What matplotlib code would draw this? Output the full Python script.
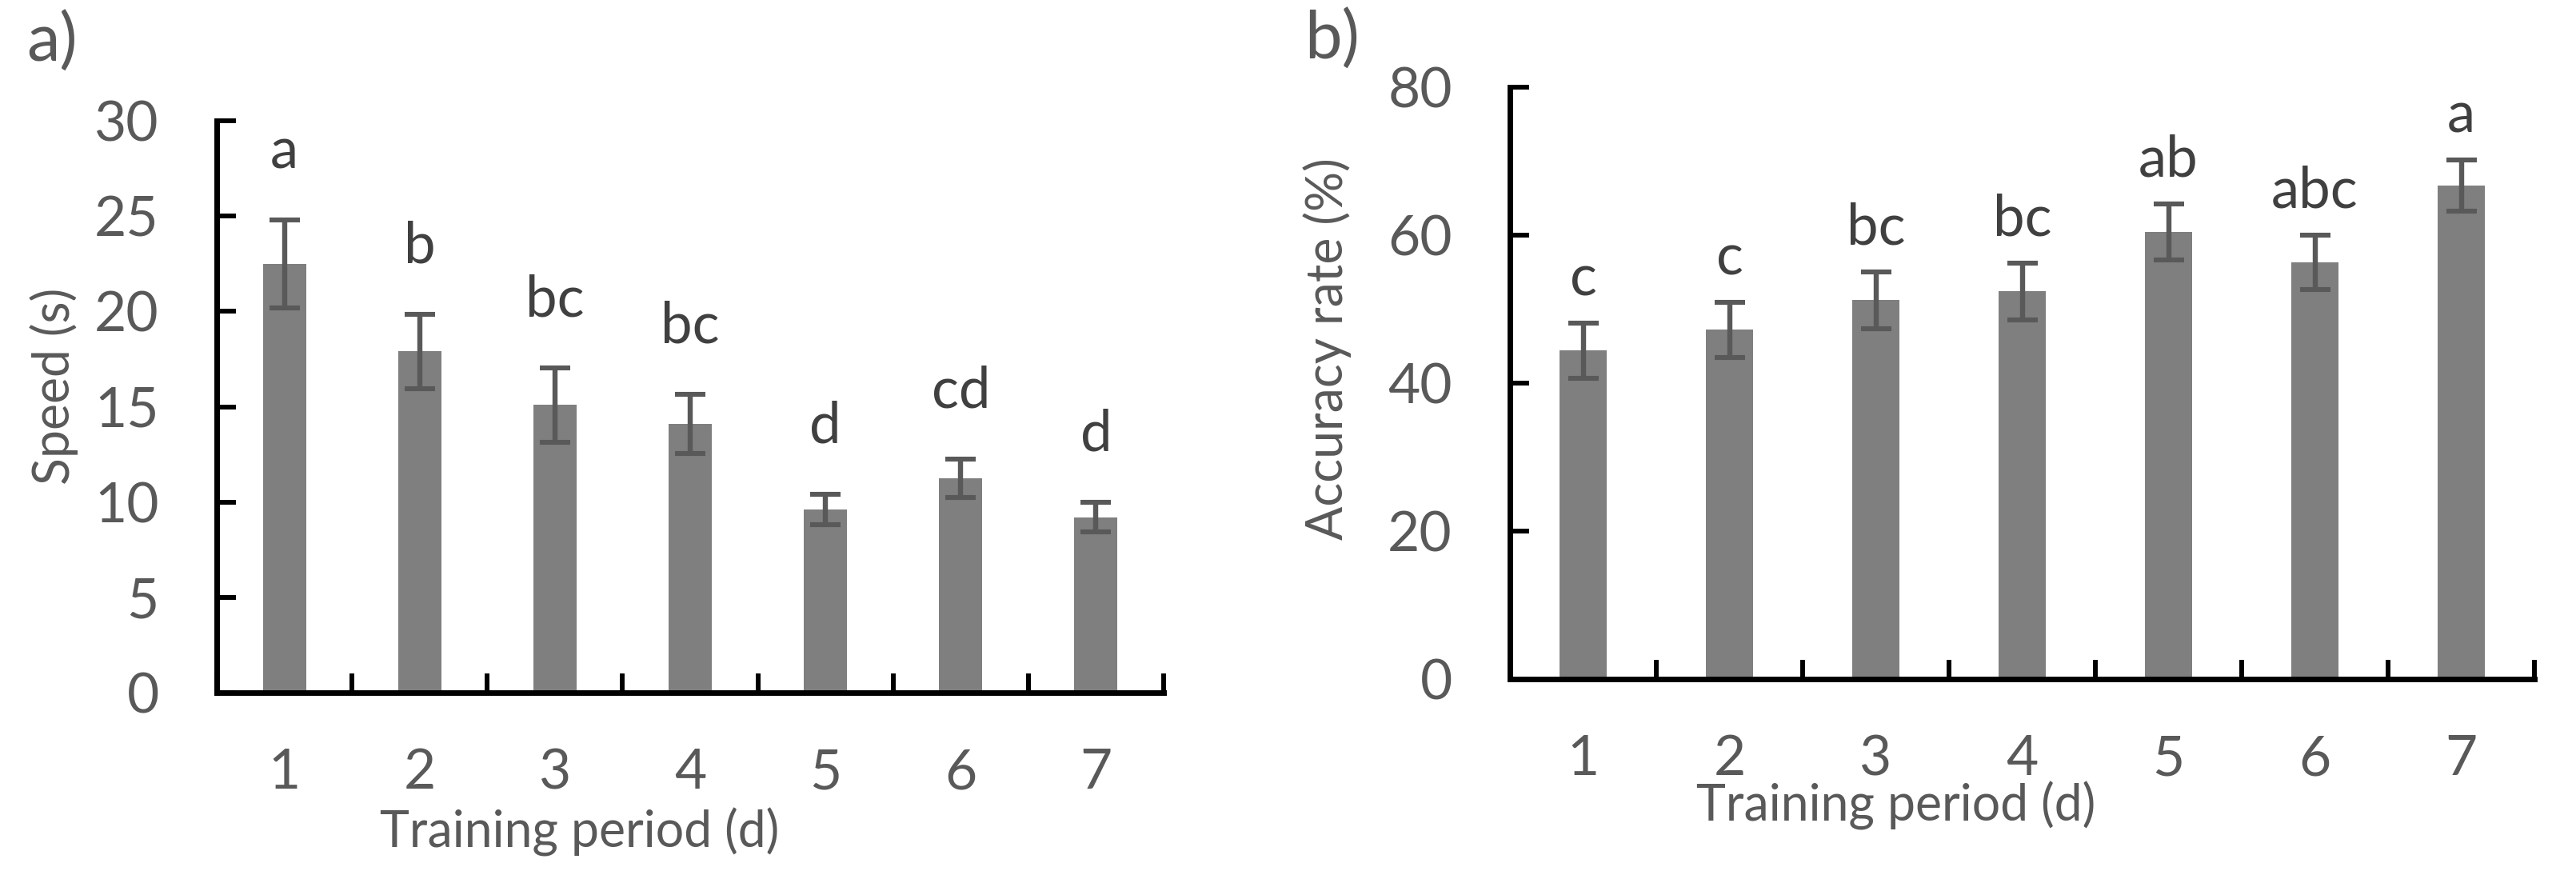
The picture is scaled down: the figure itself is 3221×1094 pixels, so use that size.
import matplotlib
matplotlib.use("Agg")
import matplotlib.pyplot as plt
import numpy as np

plt.rcParams['font.family'] = ['Lato', 'DejaVu Sans']

# ---- data ----
days = [1, 2, 3, 4, 5, 6, 7]
day_labels = ["1", "2", "3", "4", "5", "6", "7"]

speed_mean = [22.5, 17.9, 15.1, 14.1, 9.6, 11.25, 9.2]
speed_err = [2.3, 1.95, 1.95, 1.55, 0.8, 1.0, 0.78]
speed_letters = ["a", "b", "bc", "bc", "d", "cd", "d"]

acc_mean = [44.4, 47.2, 51.2, 52.4, 60.4, 56.3, 66.7]
acc_err = [3.7, 3.7, 3.85, 3.85, 3.8, 3.7, 3.5]
acc_letters = ["c", "c", "bc", "bc", "ab", "abc", "a"]

TEXT = "#595959"
LET = "#404040"
BAR = "#7f7f7f"
ERR = "#595959"

W, H = 3221, 1094
fig = plt.figure(figsize=(W / 100, H / 100), dpi=100)

def px(x0, y_top, x1, y_bot):
    return [x0 / W, 1 - y_bot / H, (x1 - x0) / W, (y_bot - y_top) / H]

ax1 = fig.add_axes(px(271, 151, 1455, 866))
ax2 = fig.add_axes(px(1888, 109, 3169, 849))

def style(ax, ymax, ystep, ylabel, means, errs, letters, off,
          xl_pos, yl_pos):
    ax.bar(days, means, width=0.32, color=BAR, zorder=2)
    ax.errorbar(days, means, yerr=errs, fmt='none', ecolor=ERR,
                elinewidth=4.6, capsize=13.5, capthick=4.4, zorder=3)
    for d, m, e, l in zip(days, means, errs, letters):
        ax.text(d, m + e + off, l, ha='center', va='baseline',
                fontsize=51, color=LET)
    ax.set_xlim(0.5, 7.5)
    ax.set_ylim(0, ymax)
    ax.set_yticks(np.arange(0, ymax + 0.1, ystep))
    ax.set_xticks(days)
    ax.set_xticklabels(day_labels)
    ax.set_xticks(np.arange(0.5, 7.6, 1.0), minor=True)
    for s in ['top', 'right']:
        ax.spines[s].set_visible(False)
    for s in ['left', 'bottom']:
        ax.spines[s].set_linewidth(5)
        ax.spines[s].set_color('black')
        ax.spines[s].set_capstyle('projecting')
    ax.tick_params(axis='y', direction='in', length=17, width=4.3,
                   colors='black', labelcolor=TEXT, labelsize=50, pad=52)
    ax.tick_params(axis='x', which='major', length=0, labelcolor=TEXT,
                   labelsize=50, pad=50)
    ax.tick_params(axis='x', which='minor', direction='in', length=17,
                   width=4.3, colors='black')
    ax.set_xlabel("Training period (d)", fontsize=45, color=TEXT)
    ax.xaxis.label.set_va('baseline')
    ax.xaxis.set_label_coords(*xl_pos)
    ax.set_ylabel(ylabel, fontsize=45, color=TEXT)
    ax.yaxis.label.set_va('center')
    ax.yaxis.set_label_coords(*yl_pos)

style(ax1, 30, 5, "Speed (s)", speed_mean, speed_err, speed_letters, 2.7,
      (0.383, -0.270), (-0.1715, 0.536))
style(ax2, 80, 20, "Accuracy rate (%)", acc_mean, acc_err, acc_letters, 3.7,
      (0.377, -0.2405), (-0.178, 0.558))

fig.text(33 / W, 1 - 77 / H, "a)", fontsize=60, color=TEXT,
         ha='left', va='baseline')
fig.text(1631 / W, 1 - 74 / H, "b)", fontsize=60, color=TEXT,
         ha='left', va='baseline')

fig.savefig("out.png", dpi=100)
